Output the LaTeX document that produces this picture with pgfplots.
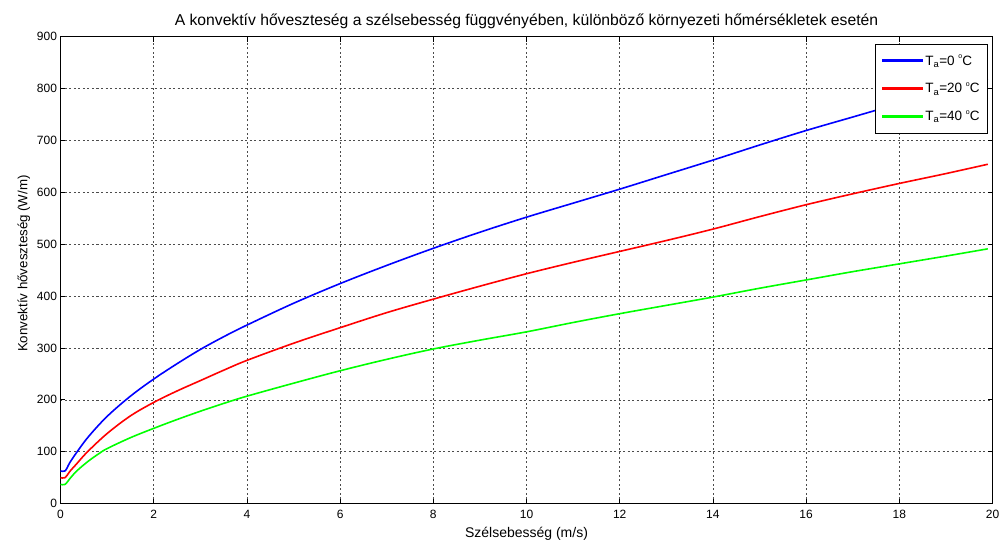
\documentclass[border=0pt]{standalone}
\usepackage{fontspec}
\setmainfont{Liberation Sans}
\usepackage{pgfplots}
\pgfplotsset{compat=1.18}

\definecolor{mblue}{rgb}{0,0,1}
\definecolor{mred}{rgb}{1,0,0}
\definecolor{mgreen}{rgb}{0,1,0}

% one style per ambient temperature, used by the curve and its legend sample
\pgfplotsset{
  curveA/.style={draw=mblue, line width=1.6pt, smooth, tension=0.55,
    legend image code/.code={\fill[mblue] (0pt,-0.8pt) rectangle (40pt,0.8pt);}},
  curveB/.style={draw=mred, line width=1.6pt, smooth, tension=0.55,
    legend image code/.code={\fill[mred] (0pt,-0.8pt) rectangle (40pt,0.8pt);}},
  curveC/.style={draw=mgreen, line width=1.6pt, smooth, tension=0.55,
    legend image code/.code={\fill[mgreen] (0pt,-0.8pt) rectangle (40pt,0.8pt);}},
}

\newcommand{\degC}{\ \raisebox{0.9ex}{\scriptsize o}C}
\newcommand{\Ta}{T\textsubscript{a}}

\begin{document}
\begin{tikzpicture}
\begin{axis}[
  scale only axis,
  width=932pt, height=467pt,
  xmin=0, xmax=20, ymin=0, ymax=900,
  xtick={0,2,...,20}, ytick={0,100,...,900},
  tick align=inside, major tick length=5pt,
  tick style={black, line width=0.8pt},
  axis line style={black, line width=0.8pt},
  grid=major,
  grid style={black!70, dash pattern=on 2pt off 2.5pt, line width=0.6pt},
  /pgf/number format/assume math mode=true,
  ticklabel style={font=\fontsize{12}{14}\selectfont},
  xticklabel style={yshift=-3pt},
  title={A konvektív hőveszteség a szélsebesség függvényében, különböző környezeti hőmérsékletek esetén},
  title style={font=\fontsize{15.7}{17}\selectfont, yshift=-2pt},
  xlabel={Szélsebesség (m/s)},
  ylabel={Konvektív hőveszteség (W/m)},
  xlabel style={font=\fontsize{14}{16}\selectfont, yshift=-2pt},
  ylabel style={font=\fontsize{13.3}{15}\selectfont, at={(ticklabel cs:0.514)}},
  legend style={at={(0.9952,0.985)}, anchor=north east, draw=black,
    line width=0.8pt, fill=white, font=\fontsize{13.5}{16}\selectfont,
    row sep=12pt, inner xsep=6pt, inner ysep=9pt},
  legend cell align=left,
]
% T_a = 0 C
\addplot[curveA] coordinates {
  (0,63) (0.1,63) (0.2,79) (0.35,99) (0.6,129) (1,168) (1.5,207) (2,240)
  (2.5,269.5) (3,297) (3.5,321.5) (4,344) (5,386) (6,424) (7,459) (8,492)
  (9,523) (10,552) (11,579) (12,606) (13,634) (14,662) (15,691) (16,719)
  (17,745) (18,771) (19,796) (19.9,818)};
\addlegendentry{\Ta=0\degC}
% T_a = 20 C
\addplot[curveB] coordinates {
  (0,50) (0.1,50) (0.2,62) (0.35,77) (0.57,99) (1,135) (1.5,169) (2,195)
  (2.5,217) (3,237) (3.5,257) (4,276) (5,309) (6,339) (7,368) (8,394) (9,419)
  (10,443) (11,465) (12,486) (13,507) (14,529) (15,553) (16,576) (17,597)
  (18,617) (19,636) (19.9,654)};
\addlegendentry{\Ta=20\degC}
% T_a = 40 C
\addplot[curveC] coordinates {
  (0,37) (0.1,37) (0.2,48) (0.35,63) (0.6,82) (0.82,96) (1,106) (1.5,127)
  (2,145) (2.5,162) (3,178) (3.5,193) (4,207) (5,232) (6,256) (7,278) (8,298)
  (9,315) (10,331) (11,349) (12,366) (13,382) (14,398) (15,415) (16,431)
  (17,447) (18,462) (19,477) (19.9,491)};
\addlegendentry{\Ta=40\degC}
\end{axis}
\pgfresetboundingbox
\path (current axis.south west) ++(-60.5pt,-39.4pt) rectangle ++(1005pt,543pt);
\end{tikzpicture}
\end{document}
